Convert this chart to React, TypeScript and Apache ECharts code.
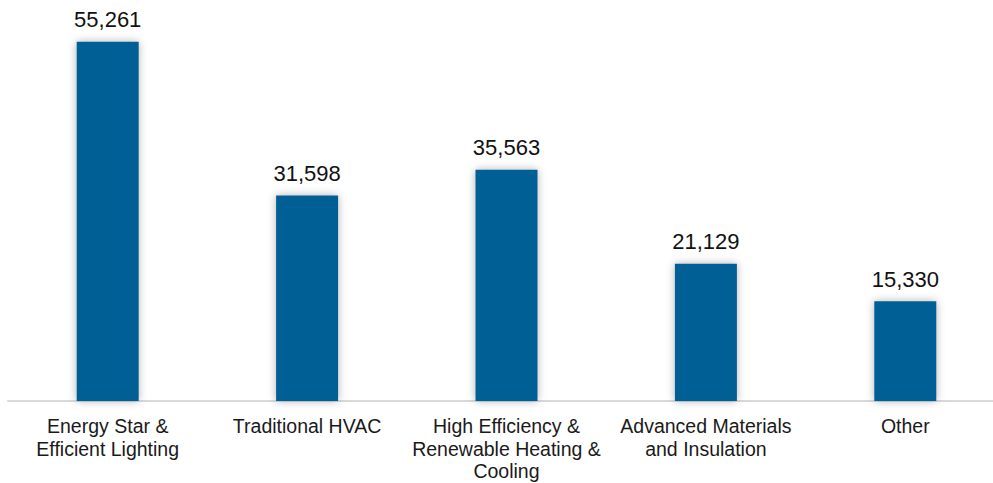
import React, { useEffect, useRef } from "react";
import * as echarts from "echarts";

const categories = [
  "Energy Star &\nEfficient Lighting",
  "Traditional HVAC",
  "High Efficiency &\nRenewable Heating &\nCooling",
  "Advanced Materials\nand Insulation",
  "Other",
];
const values = [55261, 31598, 35563, 21129, 15330];

export default function App() {
  const ref = useRef<HTMLDivElement>(null);
  useEffect(() => {
    if (!ref.current) return;
    const chart = echarts.init(ref.current, null, { renderer: "svg" });
    chart.setOption({
      animation: false,
      backgroundColor: "#ffffff",
      grid: { left: 8, right: 0, top: 11, bottom: 82, containLabel: false },
      xAxis: {
        type: "category",
        data: categories,
        axisLine: { show: true, lineStyle: { color: "#d9d9d9", width: 2 } },
        axisTick: { show: false },
        axisLabel: {
          color: "#1a1a1a",
          fontFamily: "Liberation Sans, Arial, sans-serif",
          fontSize: 19.5,
          lineHeight: 22.5,
          margin: 14,
          interval: 0,
        },
      },
      yAxis: {
        type: "value",
        min: 0,
        max: 60000,
        show: false,
        splitLine: { show: false },
      },
      series: [
        {
          type: "bar",
          data: values,
          barWidth: 62,
          itemStyle: {
            color: "#005F94",
            shadowBlur: 8,
            shadowColor: "rgba(0,0,0,0.3)",
            shadowOffsetX: 0,
            shadowOffsetY: 0,
          },
          label: {
            show: true,
            position: "top",
            distance: 11,
            color: "#111111",
            fontFamily: "Liberation Sans, Arial, sans-serif",
            fontSize: 22,
            formatter: (p: any) => Number(p.value).toLocaleString("en-US"),
          },
        },
      ],
    });
    return () => chart.dispose();
  }, []);
  return (
    <div
      ref={ref}
      style={{ position: "fixed", left: 0, top: 0, width: 1005, height: 483 }}
    />
  );
}
